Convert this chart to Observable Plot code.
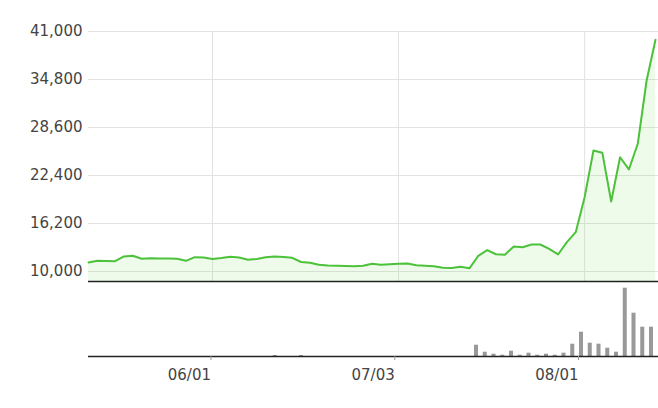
<!DOCTYPE html>
<html><head><meta charset="utf-8">
<script src="https://cdn.jsdelivr.net/npm/d3@7"></script>
<script src="https://cdn.jsdelivr.net/npm/@observablehq/plot@0.6"></script>
<style>body{margin:0;background:#fff}#chart svg{display:block}</style>
</head><body><div id="chart"></div>
<script>
const prices = [
  11160, 11380, 11360, 11330, 11940, 12030, 11640, 11720, 11680, 11680,
  11640, 11380, 11850, 11810, 11610, 11740, 11900, 11810, 11510, 11610,
  11850, 11940, 11870, 11770, 11230, 11120, 10870, 10780, 10740, 10710,
  10690, 10740, 11000, 10870, 10940, 11010, 11030, 10810, 10740, 10690,
  10480, 10450, 10610, 10410, 12030, 12750, 12230, 12160, 13230, 13140,
  13490, 13490, 12930, 12200, 13790, 15080, 19600, 25630, 25330, 19040,
  24760, 23180, 26500, 34670, 39930
];
const volumes = [
  0, 0, 0, 0, 0, 0, 0, 0, 0, 0,
  0, 0, 0, 0, 0, 0, 0, 0, 0, 0,
  0, 1000, 0, 0, 1000, 0, 0, 0, 0, 0,
  0, 0, 0, 0, 0, 0, 0, 0, 0, 0,
  0, 0, 0, 0, 11300, 4300, 2300, 1300, 5300, 1300,
  3300, 1300, 2300, 1300, 3300, 12300, 24300, 13300, 12300, 8300,
  4300, 68300, 43300, 29300, 29300
];
const yTicks = [10000, 16200, 22400, 28600, 34800, 41000];
const xTickIdx = [14, 35, 56];
const xTickLabels = ["06/01", "07/03", "08/01"];
const yMin = 8708, yMax = 41000;

const data = prices.map((p, i) => ({i, price: p, vol: volumes[i]}));
const style = {fontFamily: "DejaVu Sans, Verdana, sans-serif", fontSize: "15px", color: "#444", background: "#fff", overflow: "visible"};

const pricePane = Plot.plot({
  width: 658, height: 284,
  marginTop: 31, marginBottom: 3, marginLeft: 88, marginRight: 0,
  style,
  x: {type: "linear", domain: [0, 64.34], axis: null},
  y: {domain: [yMin, yMax]},
  marks: [
    Plot.ruleY(yTicks, {stroke: "#e2e2e2"}),
    Plot.ruleX(xTickIdx, {stroke: "#e2e2e2"}),
    Plot.areaY(data, {x: "i", y1: yMin, y2: "price", fill: "#7be35a", fillOpacity: 0.13}),
    Plot.lineY(data, {x: "i", y: "price", stroke: "#4cc23a", strokeWidth: 2}),
    Plot.ruleY([yMin], {stroke: "#222", strokeWidth: 1.5}),
    Plot.axisY(yTicks, {label: null, tickSize: 0, tickPadding: 6, tickFormat: d3.format(","), fill: "#444"})
  ]
});

const volumePane = Plot.plot({
  width: 658, height: 124,
  marginTop: 2, marginBottom: 52, marginLeft: 88, marginRight: 0,
  style,
  x: {type: "linear", domain: [-0.343, 64.8]},
  y: {domain: [0, 70000], axis: null},
  marks: [
    Plot.rectY(data.filter(d => d.vol > 0), {x1: d => d.i - 0.23, x2: d => d.i + 0.23, y1: 0, y2: "vol", fill: "#999"}),
    Plot.ruleY([0], {stroke: "#222", strokeWidth: 1.5}),
    Plot.axisX(xTickIdx, {label: null, tickSize: 4, tickPadding: 9, tickFormat: d => xTickLabels[xTickIdx.indexOf(d)], textAnchor: "end", dx: -3, stroke: "#999", fill: "#444"})
  ]
});

document.getElementById("chart").append(pricePane, volumePane);
</script>
</body></html>
